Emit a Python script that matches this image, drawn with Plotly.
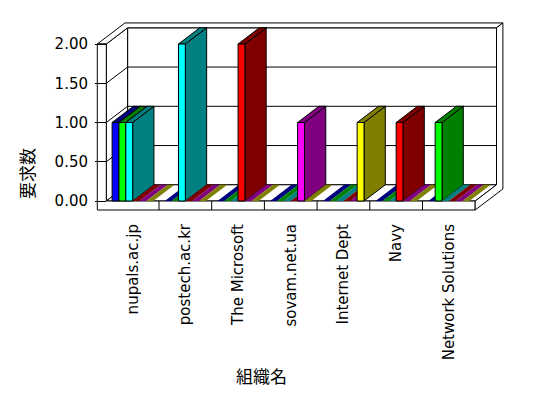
import plotly.graph_objects as go

# ---------------- data ----------------
categories = ["nupals.ac.jp", "postech.ac.kr", "The Microsoft", "sovam.net.ua",
              "Internet Dept", "Navy", "Network Solutions"]
series1 = [1, 0, 0, 0, 0, 0, 0]
series2 = [1, 0, 0, 0, 0, 0, 1]
series3 = [1, 2, 0, 0, 0, 0, 0]
series4 = [0, 0, 2, 0, 0, 1, 0]
series5 = [0, 0, 0, 1, 0, 0, 0]
series6 = [0, 0, 0, 0, 1, 0, 0]
y_tick_values = [0, 0.5, 1, 1.5, 2]
y_tick_labels = ["0.00", "0.50", "1.00", "1.50", "2.00"]
x_title = "組織名"
y_title = "要求数"

all_series = [series1, series2, series3, series4, series5, series6]

# ---------------- style ----------------
front_colors = ["#0000FF", "#00FF00", "#00FFFF", "#FF0000", "#FF00FF", "#FFFF00"]
dark_colors = ["#000080", "#008000", "#008080", "#800000", "#800080", "#808000"]

BODY = 8                       # default page margin of the html body
W, H = 548 - BODY, 398 - BODY  # figure size so that it fills the window
PX_CAT = 52.7      # pixels per category
PX_VAL = 78.5      # pixels per value unit
ORIGIN_PX, ORIGIN_PY = 106.3 - BODY, 201.0 - BODY
DX = 21.3 / PX_CAT     # depth vector in category units
DY = 16.2 / PX_VAL     # depth vector in value units
TL = 9.0 / PX_CAT      # left wall thickness
TB = 0.3               # back wall thickness (depth units)
YB = -9.0 / PX_VAL     # floor slab thickness
ML, MR, MT, MB = 95 - BODY, 40, 16 - BODY, 184
NS = len(all_series)
BAR_W = 0.13
BAR_OFF = (1 - NS * BAR_W) / 2
NCAT = len(categories)
YTOP = y_tick_values[-1]

plot_w = W - ML - MR
plot_h = H - MT - MB
x_range = [(ML - ORIGIN_PX) / PX_CAT, (ML + plot_w - ORIGIN_PX) / PX_CAT]
y_range = [(ORIGIN_PY - (MT + plot_h)) / PX_VAL, (ORIGIN_PY - MT) / PX_VAL]


def proj(p):
    X, Y, Z = p
    return X + DX * Z, Y + DY * Z


def face(pts, fill, outline=True):
    xy = [proj(p) for p in pts]
    xs = [a for a, b in xy] + [xy[0][0]]
    ys = [b for a, b in xy] + [xy[0][1]]
    if outline:
        return go.Scatter(x=xs, y=ys, mode="lines", fill="toself", fillcolor=fill,
                          line=dict(color="black", width=1), hoverinfo="skip",
                          showlegend=False)
    return go.Scatter(x=xs, y=ys, mode="none", fill="toself", fillcolor=fill,
                      hoverinfo="skip", showlegend=False)


traces = []
# back wall inner face, left wall inner face, floor top
traces.append(face([(0, 0, 1), (NCAT, 0, 1), (NCAT, YTOP, 1), (0, YTOP, 1)], "white"))
traces.append(face([(0, 0, 0), (0, 0, 1), (0, YTOP, 1), (0, YTOP, 0)], "white"))
traces.append(face([(0, 0, 0), (NCAT, 0, 0), (NCAT, 0, 1), (0, 0, 1)], "white"))

# gridlines on walls
gx, gy = [], []
for v in y_tick_values[1:-1]:
    for p in [(0, v, 0), (0, v, 1), (NCAT, v, 1)]:
        a, b = proj(p)
        gx.append(a)
        gy.append(b)
    gx.append(None)
    gy.append(None)
traces.append(go.Scatter(x=gx, y=gy, mode="lines", line=dict(color="black", width=1),
                         hoverinfo="skip", showlegend=False))

# wall top (L), front (L), right end (L)
traces.append(face([(-TL, YTOP, 0), (-TL, YTOP, 1 + TB), (NCAT, YTOP, 1 + TB),
                    (NCAT, YTOP, 1), (0, YTOP, 1), (0, YTOP, 0)], "white"))
traces.append(face([(-TL, YTOP, 0), (0, YTOP, 0), (0, 0, 0), (NCAT, 0, 0),
                    (NCAT, YB, 0), (-TL, YB, 0)], "white"))
traces.append(face([(NCAT, YB, 0), (NCAT, YB, 1 + TB), (NCAT, YTOP, 1 + TB),
                    (NCAT, YTOP, 1), (NCAT, 0, 1), (NCAT, 0, 0)], "white"))

# category dividers on floor front
dx_, dy_ = [], []
for k in range(1, NCAT):
    dx_ += [k, k, None]
    dy_ += [YB, 0, None]
traces.append(go.Scatter(x=dx_, y=dy_, mode="lines", line=dict(color="black", width=1),
                         hoverinfo="skip", showlegend=False))

# bars, drawn left to right
for c in range(NCAT):
    for s in range(NS):
        v = all_series[s][c]
        x1 = c + BAR_OFF + s * BAR_W
        x2 = x1 + BAR_W
        if v == 0:
            traces.append(face([(x1, 0, 0), (x2, 0, 0), (x2, 0, 1), (x1, 0, 1)],
                               dark_colors[s], outline=False))
        else:
            traces.append(face([(x2, 0, 0), (x2, v, 0), (x2, v, 1), (x2, 0, 1)], dark_colors[s]))
            traces.append(face([(x1, v, 0), (x2, v, 0), (x2, v, 1), (x1, v, 1)], dark_colors[s]))
            traces.append(face([(x1, 0, 0), (x2, 0, 0), (x2, v, 0), (x1, v, 0)], front_colors[s]))

fig = go.Figure(traces)

label_font = dict(family="DejaVu Sans", size=15, color="black")
title_font = dict(family="Noto Sans CJK JP", size=17, color="black")

fig.update_layout(
    width=W, height=H,
    margin=dict(l=ML, r=MR, t=MT, b=MB, pad=0),
    plot_bgcolor="white", paper_bgcolor="white",
    showlegend=False,
    xaxis=dict(range=x_range, tickvals=[i + 0.5 for i in range(NCAT)], ticktext=categories,
               tickangle=-90, showgrid=False, zeroline=False, showline=False, ticks="",
               tickfont=label_font, ticklabelstandoff=6, fixedrange=True),
    yaxis=dict(range=y_range, tickvals=y_tick_values, ticktext=y_tick_labels,
               showgrid=False, zeroline=False, showline=False, ticks="inside",
               ticklen=11, tickcolor="black", tickwidth=1, tickfont=label_font,
               ticklabelstandoff=6, fixedrange=True),
    annotations=[
        dict(text=x_title, xref="paper", yref="paper",
             x=(261 - BODY - ML) / plot_w, y=(MT + plot_h - (375 - BODY)) / plot_h,
             showarrow=False, font=title_font, xanchor="center", yanchor="middle"),
        dict(text=y_title, xref="paper", yref="paper",
             x=(26 - BODY - ML) / plot_w, y=(MT + plot_h - (174 - BODY)) / plot_h,
             showarrow=False, font=title_font, textangle=-90,
             xanchor="center", yanchor="middle"),
    ],
)

fig.write_html("out.html")
